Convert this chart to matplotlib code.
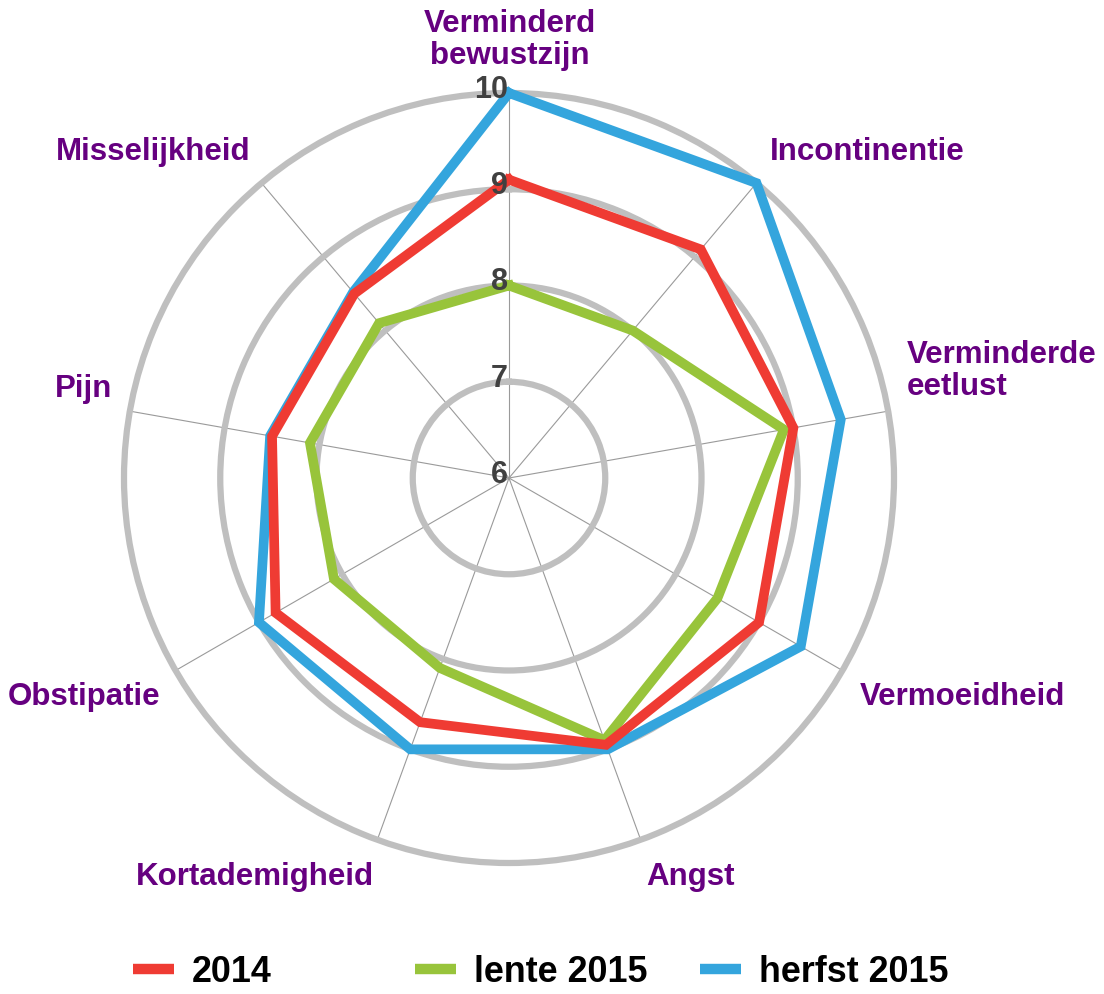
import numpy as np
import matplotlib
matplotlib.use('Agg')
import matplotlib.pyplot as plt
from matplotlib.lines import Line2D

plt.rcParams['font.family'] = ['Liberation Sans', 'DejaVu Sans']
plt.rcParams['font.weight'] = 'bold'

# ---------------- data ----------------
categories = ['Verminderd\nbewustzijn', 'Incontinentie', 'Verminderde\neetlust',
              'Vermoeidheid', 'Angst', 'Kortademigheid', 'Obstipatie', 'Pijn',
              'Misselijkheid']
series_names = ['2014', 'lente 2015', 'herfst 2015']
values_2014 = [9.1, 9.1, 9.0, 9.0, 8.95, 8.7, 8.8, 8.5, 8.5]
values_lente_2015 = [8.0, 8.0, 8.9, 8.5, 8.9, 8.1, 8.1, 8.1, 8.1]
values_herfst_2015 = [10.0, 10.0, 9.5, 9.5, 9.0, 9.0, 9.0, 8.52, 8.52]
r_ticks = [6, 7, 8, 9, 10]

colors = ['#EF3B33', '#98C43B', '#34A5DD']
purple = '#660080'
ring_color = '#BFBFBF'

# ---------------- figure ----------------
W, H = 1104, 994
fig = plt.figure(figsize=(W / 100, H / 100), dpi=100)
cx, cy, R = 509, 478, 385
ax = fig.add_axes([(cx - R) / W, (H - cy - R) / H, 2 * R / W, 2 * R / H],
                  projection='polar')
ax.set_theta_zero_location('N')
ax.set_theta_direction(-1)
ax.set_ylim(r_ticks[0], r_ticks[-1])

n = len(categories)
theta = np.arange(n) * 2 * np.pi / n
ax.set_xticks(theta)
ax.set_xticklabels([])
ax.set_yticks(r_ticks[1:-1])
ax.set_yticklabels([])
ax.tick_params(axis='both', length=0, pad=0)
ax.xaxis.grid(True, color='#9a9a9a', lw=0.8)
ax.yaxis.grid(True, color=ring_color, lw=4.5)
ax.spines['polar'].set_color(ring_color)
ax.spines['polar'].set_linewidth(4.5)
ax.set_axisbelow(True)
ax.patch.set_alpha(0)

series = [values_2014, values_lente_2015, values_herfst_2015]
zorders = [6, 5, 4]
handles = []
th_closed = np.append(theta, theta[0])
for vals, name, c, z in zip(series, series_names, colors, zorders):
    v = np.append(vals, vals[0])
    ln, = ax.plot(th_closed, v, color=c, lw=7, zorder=z, clip_on=False,
                  solid_joinstyle='miter', label=name)
    handles.append(ln)

# radial labels
for v in r_ticks:
    ax.annotate(str(v), xy=(0, v), xytext=(-1, 3), textcoords='offset pixels',
                ha='right', va='center', fontsize=22, fontweight='bold',
                color='#404040', annotation_clip=False, zorder=10)

# category labels (pixel positions from top-left)
label_pos = [
    (510, 40, 'center', 'center'),
    (770, 152, 'left', 'center'),
    (907, 371, 'left', 'center'),
    (860, 697, 'left', 'center'),
    (690, 877, 'center', 'center'),
    (255, 877, 'center', 'center'),
    (160, 697, 'right', 'center'),
    (112, 389, 'right', 'center'),
    (250, 152, 'right', 'center'),
]
for lab, (x, y, ha, va) in zip(categories, label_pos):
    ma = 'left' if ha == 'left' else 'center'
    fig.text(x / W, 1 - y / H, lab, ha=ha, va=va, fontsize=22.5,
             fontweight='bold', color=purple, multialignment=ma,
             linespacing=1.1)

# legend: three entries at fixed positions
leg_x = [133, 415, 700]
for h, name, c, x in zip(handles, series_names, colors, leg_x):
    hd = Line2D([], [], color=c, lw=7.5, solid_capstyle='butt')
    lg = fig.legend([hd], [name], loc='center left',
                    bbox_to_anchor=(x / W, 1 - 972 / H), frameon=False,
                    borderpad=0, borderaxespad=0, handlelength=1.15,
                    handletextpad=0.5, prop={'size': 25.8, 'weight': 'bold'})

fig.savefig('out.png', dpi=100)
